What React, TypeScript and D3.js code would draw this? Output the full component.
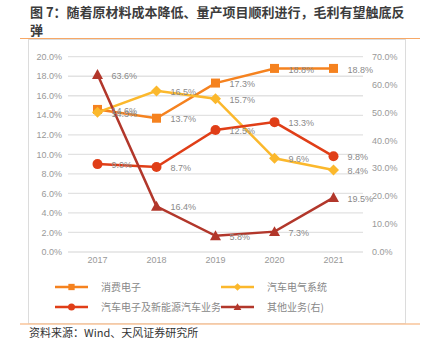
import React from "react";
import * as d3 from "d3";

const width = 421;
const height = 350;
const margin = { top: 56.7, right: 58, bottom: 98, left: 68 };

const years = ["2017", "2018", "2019", "2020", "2021"];
const consumer = [14.6, 13.7, 17.3, 18.8, 18.8];
const autoElectric = [14.3, 16.5, 15.7, 9.6, 8.4];
const autoNev = [9.0, 8.7, 12.5, 13.3, 9.8];
const other = [63.6, 16.4, 5.8, 7.3, 19.5];
const leftTicks = [0, 2, 4, 6, 8, 10, 12, 14, 16, 18, 20];
const rightTicks = [0, 10, 20, 30, 40, 50, 60, 70];

const series = [
  { name: "消费电子", values: consumer, color: "#F5821F", marker: "square", axis: "left" },
  { name: "汽车电气系统", values: autoElectric, color: "#FBB82C", marker: "diamond", axis: "left" },
  { name: "汽车电子及新能源汽车业务", values: autoNev, color: "#E03E17", marker: "circle", axis: "left" },
  { name: "其他业务(右)", values: other, color: "#B2372B", marker: "triangle", axis: "right" },
];

const font = "'Liberation Sans', Arial, 'Noto Sans CJK SC', sans-serif";
const cjk = "'Noto Sans CJK SC', sans-serif";

function Marker({ type, x, y, color, s = 1 }: any) {
  if (type === "square") return <rect x={x - 4.5 * s} y={y - 4.5 * s} width={9 * s} height={9 * s} fill={color} />;
  if (type === "circle") return <circle cx={x} cy={y} r={5 * s} fill={color} />;
  if (type === "diamond") {
    const r = 5.5 * s;
    return <path d={`M${x},${y - r}L${x + r},${y}L${x},${y + r}L${x - r},${y}Z`} fill={color} />;
  }
  const r = 5.5 * s;
  return <path d={`M${x},${y - r}L${x + r},${y + r * 0.8}L${x - r},${y + r * 0.8}Z`} fill={color} />;
}

export default function App() {
  const x = d3
    .scaleBand()
    .domain(years)
    .range([margin.left, width - margin.right]);
  const yL = d3.scaleLinear().domain([0, 20]).range([height - margin.bottom, margin.top]);
  const yR = d3.scaleLinear().domain([0, 70]).range([height - margin.bottom, margin.top]);
  const cx = (d: string) => (x(d) as number) + x.bandwidth() / 2;

  return (
    <svg width={width} height={height} style={{ position: "absolute", left: 0, top: 0 }}>
      <rect width={width} height={height} fill="#fff" />
      <text x={30} y={17} fontFamily={cjk} fontSize={13} fontWeight="bold" fill="#3c3c3c">
        图 7：随着原材料成本降低、量产项目顺利进行，毛利有望触底反
      </text>
      <text x={30} y={35} fontFamily={cjk} fontSize={13} fontWeight="bold" fill="#3c3c3c">
        弹
      </text>
      <line x1={20} x2={420} y1={38.5} y2={38.5} stroke="#F7A866" strokeWidth={1.2} />
      <rect x={28.5} y={39.5} width={377} height={284} fill="none" stroke="#dcdcdc" />
      <line x1={20} x2={420} y1={324} y2={324} stroke="#F9C49A" strokeWidth={1.5} />

      {leftTicks.map(t => (
        <g key={t}>
          <line x1={margin.left} x2={width - margin.right} y1={yL(t)} y2={yL(t)} stroke="#e2e2e2" strokeWidth={1.3} />
          <text x={62} y={yL(t)} dy="0.35em" textAnchor="end" fontFamily={font} fontSize={9} fill="#999">
            {t.toFixed(1)}%
          </text>
        </g>
      ))}
      {rightTicks.map(t => (
        <text key={t} x={372} y={yR(t)} dy="0.35em" fontFamily={font} fontSize={9} fill="#999">
          {t.toFixed(1)}%
        </text>
      ))}
      {years.map(d => (
        <text key={d} x={cx(d)} y={263} textAnchor="middle" fontFamily={font} fontSize={9} fill="#999">
          {d}
        </text>
      ))}

      {series.map(s => {
        const y = s.axis === "left" ? yL : yR;
        const line = d3
          .line<number>()
          .x((_, i) => cx(years[i]))
          .y(v => y(v));
        return (
          <g key={s.name}>
            <path d={line(s.values) as string} fill="none" stroke={s.color} strokeWidth={2.5} />
            {s.values.map((v, i) => (
              <Marker key={i} type={s.marker} x={cx(years[i])} y={y(v)} color={s.color} />
            ))}
          </g>
        );
      })}
      {series.map(s => {
        const y = s.axis === "left" ? yL : yR;
        return s.values.map((v, i) => (
          <text key={s.name + i} x={cx(years[i]) + 14} y={y(v) + 1} dy="0.35em" fontFamily={font} fontSize={9} fill="#8a8a8a">
            {v.toFixed(1)}%
          </text>
        ));
      })}

      {series.map((s, i) => {
        const col = i % 2;
        const row = Math.floor(i / 2);
        const lx = col === 0 ? 55 : 221;
        const ly = 287 + row * 20;
        return (
          <g key={s.name}>
            <line x1={lx} x2={lx + 33} y1={ly} y2={ly} stroke={s.color} strokeWidth={2.5} />
            <Marker type={s.marker} x={lx + 16.5} y={ly} color={s.color} s={0.7} />
            <text x={lx + 46} y={ly} dy="0.35em" fontFamily={cjk} fontSize={10} fill="#888">
              {s.name}
            </text>
          </g>
        );
      })}

      <text x={29} y={333} dy="0.35em" fontFamily={cjk} fontSize={11} fill="#333">
        资料来源：Wind、天风证券研究所
      </text>
    </svg>
  );
}
